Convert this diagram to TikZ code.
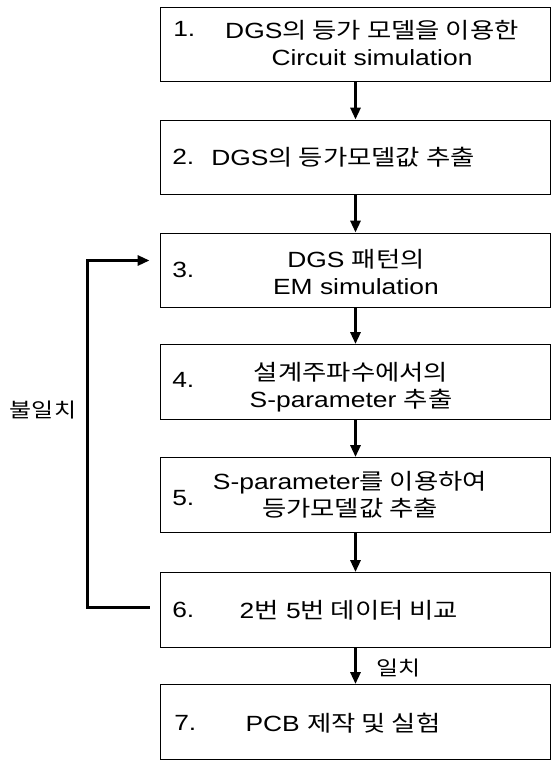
\documentclass[tikz,border=0pt]{standalone}
\usepackage{fontspec}
\setmainfont{Liberation Sans}[FakeStretch=1.2]
\newfontfamily\hg{Noto Sans CJK KR}[FakeStretch=1.2]
\usetikzlibrary{arrows.meta,positioning}

\tikzset{
  stepbox/.style={draw, line width=0.9pt, minimum width=293pt, minimum height=56pt, inner sep=0pt},
  numlabel/.style={anchor=west, inner sep=0pt, font=\fontsize{16.5}{20.5}\selectfont},
  steptext/.style={align=center, inner sep=0pt, font=\fontsize{16.5}{20.5}\selectfont},
  sidelabel/.style={inner sep=0pt, font=\fontsize{15}{18}\selectfont\hg},
  flow/.style={line width=2.2pt, -{Triangle[length=9pt,width=7.5pt]}},
}

\begin{document}
\begin{tikzpicture}[x=0.75pt,y=-0.75pt]
  \useasboundingbox (0,0) rectangle (557,761);
  % step boxes
  \node[stepbox] (s1) at (355.5,44.5) {};
  \node[stepbox] (s2) at (355.5,157.5) {};
  \node[stepbox] (s3) at (355.5,270.5) {};
  \node[stepbox] (s4) at (355.5,382) {};
  \node[stepbox] (s5) at (355.5,495) {};
  \node[stepbox] (s6) at (355.5,610) {};
  \node[stepbox] (s7) at (355.5,722) {};
  % numbers
  \node[numlabel] (n1) at (173,29) {1.};
  \node[numlabel] (n2) at (172,157) {2.};
  \node[numlabel] (n3) at (172,270) {3.};
  \node[numlabel] (n4) at (172,380) {4.};
  \node[numlabel] (n5) at (172,498) {5.};
  \node[numlabel] (n6) at (172,610) {6.};
  \node[numlabel] (n7) at (174,723) {7.};
  % texts
  \node[steptext] (t1) at (372,43) {DGS{\hg 의 등가 모델을 이용한}\\Circuit simulation};
  \node[steptext] (t2) at (343,157) {DGS{\hg 의 등가모델값 추출}};
  \node[steptext] (t3) at (356,272) {DGS {\hg 패턴의}\\EM simulation};
  \node[steptext] (t4) at (351,387) {{\hg 설계주파수에서의}\\S-parameter {\hg 추출}};
  \node[steptext] (t5) at (350,495) {S-parameter{\hg 를 이용하여}\\{\hg 등가모델값 추출}};
  \node[steptext] (t6) at (349,610) {2{\hg 번} 5{\hg 번 데이터 비교}};
  \node[steptext] (t7) at (343,723) {PCB {\hg 제작 및 실험}};
  % connectors
  \foreach \a/\b in {s1/s2,s2/s3,s3/s4,s4/s5,s5/s6,s6/s7}
    \draw[flow] (\a.south) -- (\b.north);
  \draw[flow] ([xshift=-7.5pt,yshift=2pt]s6.west) -- ++(-62,0) |- ([xshift=-7.5pt,yshift=7.5pt]s3.west);
  \node[sidelabel] (no) at (43,410) {불일치};
  \node[sidelabel, anchor=west] (yes) at (376,668) {일치};
\end{tikzpicture}
\end{document}
